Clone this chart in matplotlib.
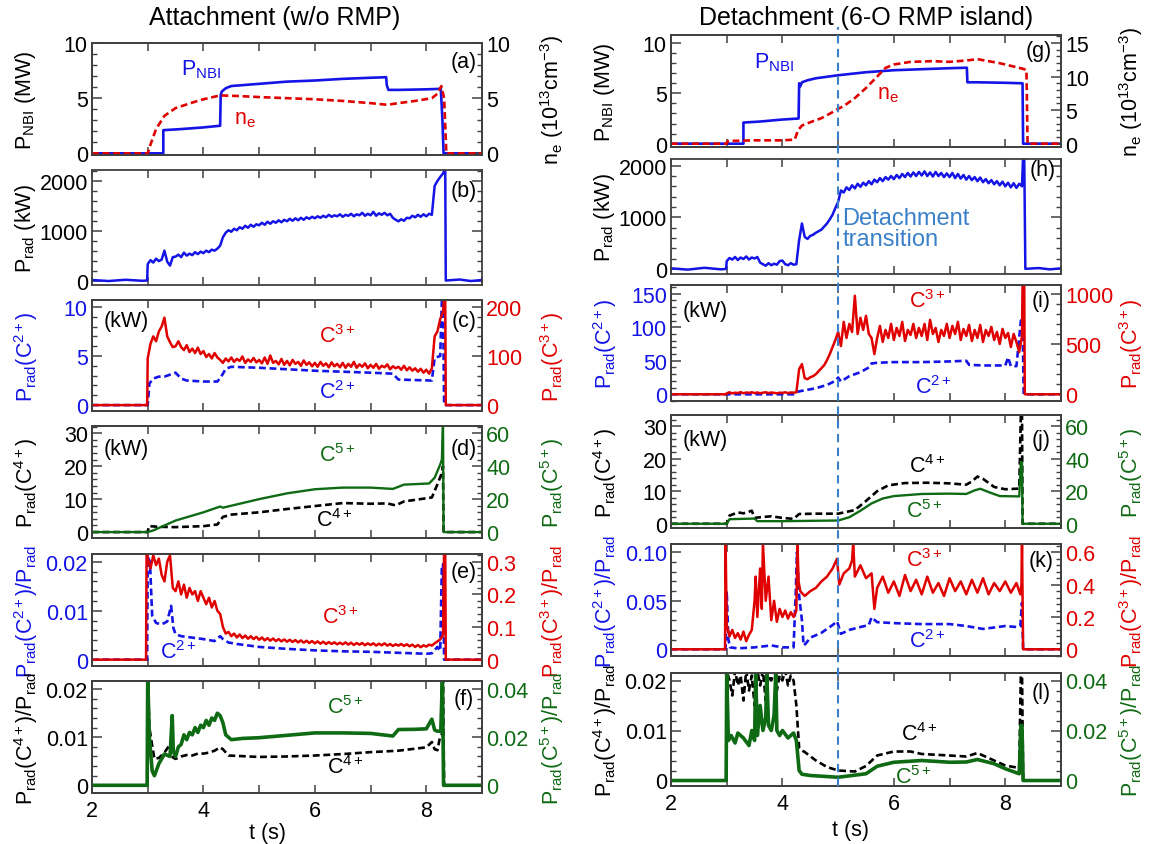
import numpy as np
import matplotlib
matplotlib.use("Agg")
import matplotlib.pyplot as plt
from matplotlib.ticker import MultipleLocator, AutoMinorLocator
from matplotlib.lines import Line2D

FAM = 'Liberation Sans'
plt.rcParams['font.family'] = [FAM, 'DejaVu Sans']
plt.rcParams['mathtext.fontset'] = 'custom'
plt.rcParams['mathtext.rm'] = FAM
plt.rcParams['mathtext.it'] = FAM + ':italic'
plt.rcParams['mathtext.sf'] = FAM
plt.rcParams['mathtext.bf'] = FAM + ':bold'
plt.rcParams['mathtext.default'] = 'regular'

BLUE = '#1414e6'
RED = '#e00000'
GREEN = '#0f6a14'
BLACK = '#000000'
VLINE = '#3b80c8'

# ---------------- data ----------------
GRID2 = list(np.round(np.arange(3.0, 8.3001, 0.05), 2))  # sample times 3.00 ... 8.30 (107)

# (a) attachment: NBI power (MW) and density (1e13 cm^-3)
T_PNBI_L = [2.0, 3.28, 3.28, 3.6, 4.0, 4.30, 4.31, 4.33, 4.40, 4.5, 5.0, 5.5, 6.0, 6.5, 7.0, 7.28, 7.29, 7.32, 7.5, 8.0, 8.26, 8.28, 8.29, 8.31, 9.0]
V_PNBI_L = [0, 0, 2.1, 2.2, 2.35, 2.5, 5.3, 5.6, 5.9, 6.1, 6.3, 6.5, 6.6, 6.75, 6.85, 6.9, 6.2, 5.75, 5.75, 5.8, 5.85, 4.0, 3.0, 0, 0]
T_NE_L = [2.0, 3.0, 3.05, 3.15, 3.3, 3.5, 3.8, 4.0, 4.3, 4.6, 5.0, 5.5, 6.0, 6.5, 7.0, 7.3, 7.5, 7.8, 8.1, 8.2, 8.27, 8.32, 8.36, 9.0]
V_NE_L = [0, 0, 0.8, 2.2, 3.4, 4.1, 4.6, 4.9, 5.25, 5.2, 5.1, 5.0, 4.9, 4.75, 4.55, 4.4, 4.55, 4.75, 5.0, 5.4, 6.1, 5.0, 0, 0]

# (b) total radiation (kW)
PRAD_L_HEAD_T = [2.0, 2.3, 2.6, 2.9, 2.99]
PRAD_L_HEAD_V = [10, -10, 15, -5, 0]
PRAD_L_GRID = [330, 410, 360, 440, 390, 420, 600, 380, 300, 470,
               480, 520, 470, 560, 500, 540, 510, 570, 530, 580,
               550, 600, 570, 620, 600, 640, 700, 870, 960, 1010,
               980, 1040, 1010, 1070, 1040, 1100, 1060, 1120, 1080, 1130,
               1110, 1160, 1120, 1180, 1140, 1190, 1160, 1210, 1170, 1220,
               1190, 1240, 1200, 1250, 1210, 1260, 1220, 1270, 1240, 1280,
               1250, 1290, 1260, 1300, 1270, 1320, 1280, 1310, 1290, 1330,
               1280, 1320, 1300, 1340, 1290, 1330, 1310, 1360, 1300, 1340,
               1310, 1380, 1300, 1350, 1320, 1360, 1310, 1340, 1260, 1220,
               1190, 1230, 1200, 1260, 1250, 1300, 1270, 1320, 1280, 1330,
               1290, 1340, 1320, 1900, 2000, 2080, 2150]
PRAD_L_TAIL_T = [8.34, 8.35, 8.6, 8.8, 9.0]
PRAD_L_TAIL_V = [2250, 0, 20, -10, 10]

# (c) C2+ (kW, left) and C3+ (kW, right)
T_C2_L = [2.0, 3.0, 3.03, 3.1, 3.2, 3.3, 3.4, 3.5, 3.6, 3.7, 4.0, 4.25, 4.32, 4.4, 4.5, 5.0, 6.0, 7.0, 7.4, 7.5, 8.1, 8.15, 8.25, 8.28, 8.3, 8.32, 9.0]
V_C2_L = [0, 0, 2.2, 2.7, 2.9, 2.9, 3.1, 3.3, 2.7, 2.5, 2.4, 2.4, 2.9, 3.7, 3.9, 3.8, 3.5, 3.3, 3.2, 2.6, 2.5, 4.8, 5.0, 10.8, 10.8, 0, 0]
C3_L_HEAD_T = [2.0, 2.99]
C3_L_HEAD_V = [0, 0]
C3_L_GRID = [95, 125, 140, 130, 150, 160, 178, 140, 128, 118,
             120, 130, 118, 112, 122, 108, 115, 106, 117, 104,
             110, 98, 104, 95, 106, 97, 92, 86, 95, 89,
             97, 88, 94, 90, 99, 86, 93, 88, 96, 87,
             92, 85, 97, 84, 101, 86, 90, 83, 94, 82,
             90, 81, 92, 84, 88, 80, 91, 82, 87, 79,
             86, 78, 88, 80, 85, 77, 87, 79, 84, 77,
             86, 76, 84, 78, 88, 76, 83, 78, 85, 75,
             82, 76, 84, 74, 80, 77, 83, 73, 79, 75,
             78, 72, 80, 71, 77, 70, 75, 68, 74, 66,
             72, 64, 75, 140, 150, 175, 190]
C3_L_TAIL_T = [8.32, 8.34, 8.35, 9.0]
C3_L_TAIL_V = [220, 220, 0, 0]

# (d) C4+ (kW, left) and C5+ (kW, right)
T_C4_L = [2.0, 3.0, 3.02, 3.2, 3.5, 4.0, 4.25, 4.35, 4.5, 5.0, 5.5, 6.0, 6.5, 7.0, 7.3, 7.45, 7.6, 8.1, 8.2, 8.28, 8.3, 8.31, 9.0]
V_C4_L = [0, 0, 1.8, 1.6, 1.5, 1.8, 2.3, 4.6, 5.3, 6.0, 7.0, 7.9, 8.8, 8.6, 8.7, 8.1, 9.3, 10.5, 14.5, 18, 20, 0, 0]
T_C5_L = [2.0, 3.0, 3.1, 3.5, 4.0, 4.3, 4.35, 4.5, 5.0, 5.5, 6.0, 6.5, 7.0, 7.4, 7.5, 7.6, 8.05, 8.15, 8.25, 8.28, 8.3, 8.31, 9.0]
V_C5_L = [0, 0, 1, 7, 12, 15.5, 14.8, 16, 20, 23.5, 26, 27, 27, 26.2, 27.5, 28.8, 29.5, 33, 41, 44, 66, 0, 0]

# (e) C2+/Prad (left) and C3+/Prad (right)
T_R2_L = [2.0, 2.99, 3.0, 3.04, 3.08, 3.15, 3.25, 3.35, 3.42, 3.46, 3.5, 3.6, 3.8, 4.0, 4.2, 4.3, 4.35, 4.45, 4.6, 5.0, 5.5, 6.0, 6.5, 7.0, 7.5, 8.0, 8.1, 8.2, 8.25, 8.28, 8.3, 8.32, 9.0]
V_R2_L = [0, 0, 0.021, 0.02, 0.009, 0.0075, 0.0072, 0.0078, 0.011, 0.0065, 0.0052, 0.0048, 0.0045, 0.0042, 0.0038, 0.0048, 0.0042, 0.0035, 0.0032, 0.0026, 0.0022, 0.0019, 0.0017, 0.0016, 0.0014, 0.0012, 0.0013, 0.0026, 0.0018, 0.0195, 0.0195, 0, 0]
R3_L_HEAD_T = [2.0, 2.97, 2.98]
R3_L_HEAD_V = [0, 0, 0.34]
R3_L_GRID = [0.31, 0.28, 0.32, 0.29, 0.31, 0.26, 0.24, 0.30, 0.32, 0.22,
             0.21, 0.24, 0.20, 0.23, 0.19, 0.22, 0.20, 0.21, 0.18, 0.21,
             0.19, 0.17, 0.19, 0.16, 0.18, 0.15, 0.14, 0.10, 0.08, 0.085,
             0.072, 0.08, 0.068, 0.077, 0.066, 0.074, 0.064, 0.072, 0.063, 0.07,
             0.061, 0.068, 0.059, 0.066, 0.058, 0.065, 0.057, 0.063, 0.056, 0.062,
             0.055, 0.061, 0.054, 0.06, 0.053, 0.059, 0.052, 0.058, 0.051, 0.057,
             0.05, 0.056, 0.049, 0.055, 0.048, 0.054, 0.048, 0.053, 0.047, 0.052,
             0.047, 0.053, 0.046, 0.052, 0.045, 0.051, 0.046, 0.051, 0.044, 0.05,
             0.045, 0.05, 0.043, 0.049, 0.044, 0.05, 0.043, 0.048, 0.042, 0.047,
             0.043, 0.048, 0.042, 0.047, 0.041, 0.046, 0.039, 0.045, 0.038, 0.044,
             0.04, 0.046, 0.043, 0.05, 0.056, 0.062, 0.075]
R3_L_TAIL_T = [8.32, 8.34, 8.35, 9.0]
R3_L_TAIL_V = [0.34, 0.34, 0, 0]

# (f) C4+/Prad (left) and C5+/Prad (right)
T_R4_L = [2.0, 2.99, 3.0, 3.03, 3.07, 3.12, 3.2, 3.3, 3.4, 3.45, 3.5, 3.6, 3.7, 3.8, 3.9, 4.0, 4.1, 4.2, 4.3, 4.35, 4.45, 5.0, 5.5, 6.0, 6.5, 7.0, 7.5, 8.0, 8.1, 8.15, 8.2, 8.25, 8.28, 8.3, 8.32, 9.0]
V_R4_L = [0, 0, 0.022, 0.012, 0.009, 0.0055, 0.0057, 0.0068, 0.0085, 0.0058, 0.0055, 0.006, 0.0063, 0.0062, 0.0066, 0.0066, 0.0068, 0.0072, 0.0079, 0.0075, 0.0062, 0.0059, 0.006, 0.0062, 0.0065, 0.0069, 0.0072, 0.0079, 0.009, 0.0075, 0.0073, 0.0103, 0.0105, 0.022, 0, 0]
T_R5_L = [2.0, 2.99, 3.0, 3.03, 3.08, 3.12, 3.2, 3.3, 3.4, 3.44, 3.46, 3.5, 3.55, 3.6, 3.65, 3.7, 3.75, 3.8, 3.85, 3.9, 3.95, 4.0, 4.05, 4.1, 4.15, 4.2, 4.25, 4.3, 4.35, 4.4, 4.5, 4.7, 5.0, 5.5, 6.0, 6.5, 7.0, 7.4, 7.5, 7.8, 8.0, 8.1, 8.15, 8.2, 8.26, 8.29, 8.31, 9.0]
V_R5_L = [0, 0, 0.045, 0.02, 0.006, 0.004, 0.009, 0.013, 0.012, 0.029, 0.014, 0.012, 0.016, 0.017, 0.021, 0.019, 0.022, 0.021, 0.024, 0.022, 0.025, 0.024, 0.027, 0.025, 0.028, 0.027, 0.030, 0.029, 0.026, 0.021, 0.019, 0.0195, 0.0198, 0.0208, 0.0218, 0.0218, 0.0216, 0.0205, 0.0232, 0.0233, 0.0235, 0.0275, 0.023, 0.0225, 0.0225, 0.045, 0, 0]

# (g) detachment: NBI power and density
T_PNBI_R = [2.0, 3.3, 3.3, 3.6, 4.0, 4.29, 4.3, 4.32, 4.35, 4.45, 4.6, 5.0, 5.5, 6.0, 6.5, 7.0, 7.31, 7.32, 7.5, 8.0, 8.31, 8.32, 9.0]
V_PNBI_R = [0, 0, 2.1, 2.2, 2.4, 2.5, 6.0, 5.7, 6.1, 6.3, 6.5, 6.8, 7.1, 7.3, 7.4, 7.5, 7.55, 6.1, 6.1, 6.05, 6.0, 0, 0]
T_NE_R = [2.0, 3.0, 3.02, 3.5, 4.0, 4.22, 4.28, 4.35, 4.5, 4.7, 4.9, 5.0, 5.1, 5.3, 5.5, 5.7, 5.85, 6.0, 6.3, 6.7, 7.0, 7.3, 7.5, 7.7, 7.9, 8.1, 8.3, 8.38, 8.4, 9.0]
V_NE_R = [0, 0, 0.4, 0.5, 0.5, 0.6, 2.0, 2.7, 3.2, 3.8, 4.7, 5.2, 5.6, 6.8, 8.3, 10.0, 11.3, 11.8, 12.2, 12.3, 12.2, 12.4, 12.6, 12.3, 12.0, 11.6, 11.2, 11.0, 0, 0]

# (h) total radiation (kW)
PRAD_R_HEAD_T = [2.0, 2.3, 2.6, 2.9, 2.99]
PRAD_R_HEAD_V = [10, -15, 20, -10, 0]
PRAD_R_GRID = [150, 210, 180, 230, 170, 220, 190, 240, 180, 220,
               200, 230, 120, 90, 60, 110, 70, 100, 80, 150,
               160, 90, 70, 110, 80, 90, 560, 880, 620, 580,
               640, 660, 700, 730, 760, 820, 880, 960, 1050, 1180,
               1300, 1520, 1480, 1580, 1530, 1620, 1560, 1650, 1590, 1670,
               1620, 1700, 1640, 1730, 1680, 1760, 1700, 1780, 1730, 1800,
               1740, 1820, 1760, 1840, 1780, 1860, 1790, 1870, 1800, 1880,
               1810, 1890, 1800, 1870, 1790, 1880, 1800, 1860, 1780, 1850,
               1780, 1860, 1760, 1840, 1750, 1820, 1730, 1800, 1720, 1780,
               1700, 1770, 1680, 1740, 1660, 1720, 1640, 1700, 1620, 1690,
               1600, 1670, 1580, 1660, 1570, 1650, 1600]
PRAD_R_TAIL_T = [8.32, 8.34, 8.36, 8.6, 8.8, 9.0]
PRAD_R_TAIL_V = [2200, 2200, 0, 15, -10, 10]

# (i) C2+ (left) and C3+ (right), kW
T_C2_R = [2.0, 4.2, 4.28, 4.4, 4.6, 4.8, 4.95, 5.0, 5.05, 5.2, 5.4, 5.55, 5.6, 5.7, 6.0, 6.5, 7.0, 7.3, 7.35, 7.6, 8.0, 8.05, 8.1, 8.2, 8.28, 8.31, 8.33, 9.0]
V_C2_R = [0, 0, 4, 6, 9, 14, 20, 25, 19, 27, 33, 40, 46, 47, 48, 48, 49, 50, 44, 43, 43, 55, 42, 42, 110, 110, 0, 0]
C3_R_HEAD_T = [2.0, 2.99]
C3_R_HEAD_V = [0, 0]
C3_R_GRID = [10, 20, 8, 16, 12, 22, 10, 18, 14, 20,
             12, 18, 10, 16, 20, 12, 18, 14, 10, 16,
             14, 20, 12, 18, 16, 20, 250, 300, 160, 150,
             170, 180, 200, 230, 260, 290, 340, 400, 470, 540,
             620, 480, 720, 560, 700, 620, 980, 600, 760, 640,
             780, 600, 560, 400, 560, 680, 520, 640, 560, 700,
             540, 660, 580, 720, 530, 640, 590, 700, 560, 660,
             580, 700, 540, 740, 600, 660, 520, 640, 580, 700,
             560, 680, 600, 720, 540, 650, 580, 690, 530, 640,
             560, 690, 520, 640, 580, 670, 540, 620, 500, 650,
             560, 610, 470, 600, 520, 420, 580]
C3_R_TAIL_T = [8.31, 8.34, 8.35, 9.0]
C3_R_TAIL_V = [1100, 1100, 0, 0]

# (j) C4+ (left) and C5+ (right), kW
T_C4_R = [2.0, 3.0, 3.05, 3.2, 3.3, 3.45, 3.5, 3.6, 3.8, 4.0, 4.2, 4.3, 4.6, 5.0, 5.3, 5.5, 5.7, 5.9, 6.2, 6.6, 7.0, 7.3, 7.4, 7.5, 7.6, 7.8, 8.0, 8.25, 8.28, 8.3, 8.31, 9.0]
V_C4_R = [0, 0, 2.5, 3.5, 3.2, 4.0, 1.8, 2.0, 2.3, 1.8, 1.5, 3.0, 3.1, 3.1, 4.2, 7.0, 10.0, 11.8, 12.5, 12.6, 12.4, 12.0, 13.0, 14.5, 13.8, 11.3, 10.6, 10.8, 34, 34, 0, 0]
T_C5_R = [2.0, 3.0, 3.05, 3.5, 3.55, 4.0, 4.5, 5.0, 5.2, 5.4, 5.6, 5.8, 6.0, 6.5, 7.0, 7.3, 7.45, 7.55, 7.7, 7.9, 8.25, 8.28, 8.3, 8.31, 9.0]
V_C5_R = [0, 0, 2.8, 3.2, 1.6, 1.6, 1.8, 2.0, 4.0, 8.0, 12.5, 15.5, 17.0, 18.3, 18.5, 18.3, 20.5, 21.5, 19.5, 17.0, 16.8, 38, 38, 0, 0]

# (k) C2+/Prad (left) and C3+/Prad (right)
T_R2_R = [2.0, 2.98, 3.0, 3.03, 3.06, 3.2, 3.5, 3.8, 4.0, 4.2, 4.24, 4.26, 4.3, 4.35, 4.38, 4.42, 4.5, 4.7, 4.9, 4.98, 5.05, 5.2, 5.4, 5.55, 5.6, 5.7, 6.0, 6.5, 7.0, 7.3, 7.6, 8.0, 8.2, 8.27, 8.3, 8.32, 9.0]
V_R2_R = [0, 0, 0.06, 0.01, 0.002, 0.001, 0.002, 0.004, 0.002, 0.002, 0.06, 0.1, 0.055, 0.03, 0.004, 0.006, 0.012, 0.017, 0.025, 0.029, 0.016, 0.02, 0.023, 0.025, 0.033, 0.028, 0.027, 0.026, 0.026, 0.024, 0.021, 0.024, 0.023, 0.024, 0.048, 0, 0]
T_R3_R = [2.0, 2.97, 2.98, 3.0, 3.05, 3.1, 3.15, 3.2, 3.25, 3.3, 3.35, 3.4, 3.45, 3.5, 3.52, 3.55, 3.6, 3.63, 3.65, 3.7,
          3.75, 3.8, 3.85, 3.9, 3.95, 4.0, 4.05, 4.1, 4.15, 4.2, 4.25, 4.27, 4.29, 4.32, 4.4, 4.5, 4.6, 4.7, 4.8, 4.9,
          4.98, 5.02, 5.1, 5.2, 5.25, 5.27, 5.3, 5.4, 5.5, 5.6, 5.65, 5.7, 5.8, 5.9, 6.0, 6.1, 6.2, 6.3, 6.4, 6.5,
          6.6, 6.7, 6.8, 6.9, 7.0, 7.1, 7.2, 7.3, 7.4, 7.5, 7.6, 7.7, 7.8, 7.9, 8.0, 8.1, 8.2, 8.27, 8.29, 8.3,
          8.32, 9.0]
V_R3_R = [0, 0, 0.66, 0.15, 0.08, 0.12, 0.07, 0.1, 0.06, 0.11, 0.05, 0.09, 0.12, 0.3, 0.45, 0.2, 0.5, 0.25, 0.66, 0.3,
          0.45, 0.18, 0.3, 0.17, 0.25, 0.2, 0.24, 0.19, 0.23, 0.2, 0.24, 0.66, 0.42, 0.36, 0.33, 0.36, 0.38, 0.42, 0.45, 0.5,
          0.56, 0.4, 0.47, 0.5, 0.55, 0.66, 0.45, 0.52, 0.44, 0.47, 0.25, 0.38, 0.45, 0.35, 0.42, 0.33, 0.46, 0.36, 0.43, 0.34,
          0.45, 0.35, 0.41, 0.33, 0.44, 0.36, 0.42, 0.34, 0.43, 0.35, 0.44, 0.34, 0.41, 0.36, 0.42, 0.35, 0.41, 0.34, 0.4, 0.66,
          0, 0]

# (l) C4+/Prad (left) and C5+/Prad (right)
T_R4_R = [2.0, 2.99, 3.0, 3.05, 3.1, 3.15, 3.2, 3.25, 3.3, 3.35, 3.4, 3.45, 3.5, 3.55, 3.6, 3.65, 3.7, 3.75, 3.8, 3.85,
          3.9, 3.95, 4.0, 4.05, 4.1, 4.15, 4.2, 4.25, 4.3, 4.35, 4.4, 4.6, 4.8, 5.0, 5.3, 5.5, 5.7, 6.0, 6.3, 6.5,
          7.0, 7.3, 7.5, 7.8, 8.0, 8.25, 8.28, 8.3, 8.32, 9.0]
V_R4_R = [0, 0, 0.022, 0.02, 0.017, 0.022, 0.019, 0.021, 0.016, 0.022, 0.018, 0.021, 0.015, 0.022, 0.019, 0.022, 0.016, 0.021, 0.02, 0.022,
          0.018, 0.021, 0.02, 0.022, 0.019, 0.021, 0.02, 0.015, 0.0065, 0.006, 0.0057, 0.004, 0.0027, 0.002, 0.0018, 0.0029, 0.005, 0.0058, 0.0058, 0.0053,
          0.005, 0.0048, 0.0055, 0.004, 0.003, 0.0025, 0.022, 0.022, 0, 0]
T_R5_R = [2.0, 2.99, 3.0, 3.03, 3.08, 3.15, 3.2, 3.3, 3.4, 3.45, 3.5, 3.52, 3.55, 3.6, 3.65, 3.7, 3.72, 3.75, 3.8, 3.85,
          3.88, 3.9, 3.95, 4.0, 4.1, 4.2, 4.25, 4.3, 4.35, 4.5, 5.0, 5.5, 5.7, 6.0, 6.5, 7.0, 7.3, 7.5, 7.8, 8.0,
          8.25, 8.28, 8.3, 8.32, 9.0]
V_R5_R = [0, 0, 0.043, 0.016, 0.018, 0.015, 0.019, 0.017, 0.014, 0.02, 0.016, 0.043, 0.018, 0.03, 0.02, 0.025, 0.043, 0.022, 0.02, 0.026,
          0.043, 0.02, 0.018, 0.02, 0.017, 0.019, 0.016, 0.004, 0.0025, 0.002, 0.0013, 0.0027, 0.0057, 0.0073, 0.008, 0.0073, 0.0074, 0.0084, 0.0067, 0.0047,
          0.0027, 0.022, 0.022, 0, 0]

X_TICKS = [2, 4, 6, 8]

# ---------------- figure ----------------
W, H = 1150, 845
fig = plt.figure(figsize=(W / 100, H / 100), dpi=100)

TICK_FS = 15.5
LAB_FS = 15.5
ANN_FS = 15.5
FRAME = '#404040'


def rect(l, t, r, b):
    return [l / W, 1 - b / H, (r - l) / W, (b - t) / H]


def series(head_t, grid_v, tail_t, head_v, tail_v):
    n = min(len(GRID2), len(grid_v))
    return head_t + GRID2[:n] + tail_t, head_v + list(grid_v[:n]) + tail_v


def fmt(v):
    if v == 0:
        return '0'
    return ('%g' % v)


def panel(r, ylim, yt, ylab, ycol, rfac=None, rt=None, rlab=None, rcol=None,
          xlab=False, yminor=5, rminor=5, ytl=None, rtl=None):
    ax = fig.add_axes(r)
    ax.set_xlim(2, 9)
    ax.set_ylim(*ylim)
    ax.set_xticks(X_TICKS)
    ax.xaxis.set_minor_locator(MultipleLocator(1))
    ax.tick_params(axis='x', which='both', direction='in', top=True, bottom=True,
                   length=6, width=1.1, color=FRAME, labelsize=TICK_FS, pad=5)
    if not xlab:
        ax.tick_params(axis='x', labelbottom=False)
    ax.set_yticks(yt)
    ax.set_yticklabels(ytl if ytl else [fmt(v) for v in yt])
    ax.yaxis.set_minor_locator(AutoMinorLocator(yminor))
    ax.tick_params(axis='y', which='major', direction='in', length=7, width=1.1,
                   color=FRAME, labelsize=TICK_FS, labelcolor=ycol, pad=3,
                   right=(rfac is None))
    ax.tick_params(axis='y', which='minor', direction='in', length=3.5, width=1.0,
                   color=FRAME, right=(rfac is None))
    for s in ax.spines.values():
        s.set_color(FRAME)
        s.set_linewidth(1.3)
    ax.set_ylabel(ylab, color=ycol, fontsize=LAB_FS, va='center')
    ax.yaxis.set_label_coords(-0.17, 0.5)
    tw = None
    if rfac is not None:
        tw = ax.twinx()
        tw.set_ylim(ylim[0] * rfac, ylim[1] * rfac)
        tw.set_yticks(rt)
        tw.set_yticklabels(rtl if rtl else [fmt(v) for v in rt])
        tw.yaxis.set_minor_locator(AutoMinorLocator(rminor))
        tw.tick_params(axis='y', which='major', direction='in', length=7, width=1.1,
                       color=FRAME, labelsize=TICK_FS, labelcolor=rcol, pad=3)
        tw.tick_params(axis='y', which='minor', direction='in', length=3.5, width=1.0,
                       color=FRAME)
        for s in tw.spines.values():
            s.set_color(FRAME)
            s.set_linewidth(1.3)
        if rlab:
            tw.set_ylabel(rlab, color=rcol, fontsize=LAB_FS, rotation=90, va='center')
            tw.yaxis.set_label_coords(1.18, 0.5)
    return ax, tw


def tag(ax, x, y, s, c=BLACK, ha='center', fs=ANN_FS):
    ax.text(x, y, s, color=c, fontsize=fs, ha=ha, va='center')


DASH = (0, (2.6, 1.4))
LW = 1.7
NLW = 1.8  # noisy signals

PR = r'P$_{rad}$'

# ---------- left column ----------
LX0, LX1 = 92, 482
# (a)
ax, tw = panel(rect(LX0, 44, LX1, 156), (-0.15, 10), [0, 5, 10], r'P$_{NBI}$ (MW)', BLACK,
               rfac=1.0, rt=[0, 5, 10], rlab=r'n$_e$ (10$^{13}$cm$^{-3}$)', rcol=BLACK)
ax.plot(T_PNBI_L, V_PNBI_L, color=BLUE, lw=LW + 0.2)
tw.plot(T_NE_L, V_NE_L, color=RED, lw=LW + 0.2, ls=DASH)
tag(ax, 3.95, 7.7, r'P$_{NBI}$', BLUE)
tag(ax, 4.75, 3.2, r'n$_e$', RED)
tag(ax, 8.68, 8.3, '(a)')

# (b)
ax, _ = panel(rect(LX0, 171, LX1, 286), (-90, 2220), [0, 1000, 2000], PR + ' (kW)', BLACK)
t, v = series(PRAD_L_HEAD_T, PRAD_L_GRID, PRAD_L_TAIL_T, PRAD_L_HEAD_V, PRAD_L_TAIL_V)
ax.plot(t, v, color=BLUE, lw=NLW)
tag(ax, 8.68, 1800, '(b)')

# (c)
ax, tw = panel(rect(LX0, 301, LX1, 412), (-0.6, 10.7), [0, 5, 10], PR + r'(C$^{2+}$)', BLUE,
               rfac=20, rt=[0, 100, 200], rlab=PR + r'(C$^{3+}$)', rcol=RED)
ax.plot(T_C2_L, V_C2_L, color=BLUE, lw=LW + 0.2, ls=DASH)
t, v = series(C3_L_HEAD_T, C3_L_GRID, C3_L_TAIL_T, C3_L_HEAD_V, C3_L_TAIL_V)
tw.plot(t, v, color=RED, lw=NLW)
tag(ax, 2.2, 8.6, '(kW)', ha='left')
tag(ax, 6.4, 7.1, r'C$^{3+}$', RED)
tag(ax, 6.4, 1.4, r'C$^{2+}$', BLUE)
tag(ax, 8.68, 8.6, '(c)')

# (d)
ax, tw = panel(rect(LX0, 427, LX1, 539), (-1.8, 32.2), [0, 10, 20, 30], PR + r'(C$^{4+}$)', BLACK,
               rfac=2, rt=[0, 20, 40, 60], rlab=PR + r'(C$^{5+}$)', rcol=GREEN)
ax.plot(T_C4_L, V_C4_L, color=BLACK, lw=LW + 0.2, ls=DASH)
tw.plot(T_C5_L, V_C5_L, color=GREEN, lw=LW)
tag(ax, 2.2, 25.5, '(kW)', ha='left')
tag(ax, 6.4, 23.5, r'C$^{5+}$', GREEN)
tag(ax, 6.35, 3.8, r'C$^{4+}$', BLACK)
tag(ax, 8.68, 25.5, '(d)')

# (e)
ax, tw = panel(rect(LX0, 555, LX1, 667), (-0.0013, 0.0216), [0, 0.01, 0.02],
               PR + r'(C$^{2+}$)/' + PR, BLUE,
               rfac=15, rt=[0, 0.1, 0.2, 0.3], rlab=PR + r'(C$^{3+}$)/' + PR, rcol=RED)
ax.plot(T_R2_L, V_R2_L, color=BLUE, lw=LW + 0.2, ls=DASH)
t, v = series(R3_L_HEAD_T, R3_L_GRID, R3_L_TAIL_T, R3_L_HEAD_V, R3_L_TAIL_V)
tw.plot(t, v, color=RED, lw=NLW)
tag(ax, 6.45, 0.0088, r'C$^{3+}$', RED)
tag(ax, 3.55, 0.0016, r'C$^{2+}$', BLUE)
tag(ax, 8.68, 0.0181, '(e)')

# (f)
ax, tw = panel(rect(LX0, 682, LX1, 794), (-0.0016, 0.0217), [0, 0.01, 0.02],
               PR + r'(C$^{4+}$)/' + PR, BLACK,
               rfac=2, rt=[0, 0.02, 0.04], rlab=PR + r'(C$^{5+}$)/' + PR, rcol=GREEN, xlab=True)
ax.plot(T_R4_L, V_R4_L, color=BLACK, lw=LW + 0.2, ls=DASH)
tw.plot(T_R5_L, V_R5_L, color=GREEN, lw=NLW + 0.8)
tag(ax, 6.55, 0.0163, r'C$^{5+}$', GREEN)
tag(ax, 6.55, 0.0038, r'C$^{4+}$', BLACK)
tag(ax, 8.68, 0.0181, '(f)')
ax.set_xlabel('t (s)', fontsize=LAB_FS)
ax.xaxis.set_label_coords(0.45, -0.255)

# ---------- right column ----------
RX0, RX1 = 671, 1061
# (g)
ax, tw = panel(rect(RX0, 36, RX1, 148), (-0.33, 10.8), [0, 5, 10], r'P$_{NBI}$ (MW)', BLACK,
               rfac=1.5, rt=[0, 5, 10, 15], rlab=r'n$_e$ (10$^{13}$cm$^{-3}$)', rcol=BLACK)
ax_g = ax
ax.plot(T_PNBI_R, V_PNBI_R, color=BLUE, lw=LW + 0.2)
tw.plot(T_NE_R, V_NE_R, color=RED, lw=LW + 0.2, ls=DASH)
tag(ax, 3.85, 8.1, r'P$_{NBI}$', BLUE)
tag(ax, 5.9, 5.0, r'n$_e$', RED)
tag(ax, 8.6, 9.3, '(g)')

# (h)
ax, _ = panel(rect(RX0, 160, RX1, 275), (-100, 2130), [0, 1000, 2000], PR + ' (kW)', BLACK)
t, v = series(PRAD_R_HEAD_T, PRAD_R_GRID, PRAD_R_TAIL_T, PRAD_R_HEAD_V, PRAD_R_TAIL_V)
ax.plot(t, v, color=BLUE, lw=NLW)
ax.text(5.08, 790, 'Detachment\ntransition', color=VLINE, fontsize=ANN_FS + 1.5, ha='left',
        va='center', linespacing=0.95)
tag(ax, 8.68, 1930, '(h)')

# (i)
ax, tw = panel(rect(RX0, 286, RX1, 402), (-10, 163), [0, 50, 100, 150], PR + r'(C$^{2+}$)', BLUE,
               rfac=1000 / 150, rt=[0, 500, 1000], rlab=PR + r'(C$^{3+}$)', rcol=RED)
ax.plot(T_C2_R, V_C2_R, color=BLUE, lw=LW + 0.2, ls=DASH)
t, v = series(C3_R_HEAD_T, C3_R_GRID, C3_R_TAIL_T, C3_R_HEAD_V, C3_R_TAIL_V)
tw.plot(t, v, color=RED, lw=NLW)
tag(ax, 2.2, 125, '(kW)', ha='left')
tag(ax, 6.6, 140, r'C$^{3+}$', RED)
tag(ax, 6.7, 12, r'C$^{2+}$', BLUE)
tag(ax, 8.65, 140, '(i)')

# (j)
ax, tw = panel(rect(RX0, 416, RX1, 529), (-1.3, 33.4), [0, 10, 20, 30], PR + r'(C$^{4+}$)', BLACK,
               rfac=2, rt=[0, 20, 40, 60], rlab=PR + r'(C$^{5+}$)', rcol=GREEN)
ax.plot(T_C4_R, V_C4_R, color=BLACK, lw=LW + 0.2, ls=DASH)
tw.plot(T_C5_R, V_C5_R, color=GREEN, lw=LW)
tag(ax, 2.2, 26, '(kW)', ha='left')
tag(ax, 6.6, 17.8, r'C$^{4+}$', BLACK)
tag(ax, 6.55, 4.0, r'C$^{5+}$', GREEN)
tag(ax, 8.65, 26, '(j)')

# (k)
ax, tw = panel(rect(RX0, 545, RX1, 657), (-0.0069, 0.1086), [0, 0.05, 0.10],
               PR + r'(C$^{2+}$)/' + PR, BLUE,
               rfac=6, rt=[0, 0.2, 0.4, 0.6], rlab=PR + r'(C$^{3+}$)/' + PR, rcol=RED,
               ytl=['0', '0.05', '0.10'])
ax.plot(T_R2_R, V_R2_R, color=BLUE, lw=LW + 0.2, ls=DASH)
tw.plot(T_R3_R, V_R3_R, color=RED, lw=NLW)
tag(ax, 6.55, 0.093, r'C$^{3+}$', RED)
tag(ax, 6.6, 0.0086, r'C$^{2+}$', BLUE)
tag(ax, 8.65, 0.092, '(k)')

# (l)
ax, tw = panel(rect(RX0, 674, RX1, 787), (-0.0011, 0.0215), [0, 0.01, 0.02],
               PR + r'(C$^{4+}$)/' + PR, BLACK,
               rfac=2, rt=[0, 0.02, 0.04], rlab=PR + r'(C$^{5+}$)/' + PR, rcol=GREEN, xlab=True)
ax_l = ax
ax.plot(T_R4_R, V_R4_R, color=BLACK, lw=LW + 0.2, ls=DASH)
tw.plot(T_R5_R, V_R5_R, color=GREEN, lw=NLW + 0.8)
tag(ax, 6.45, 0.0093, r'C$^{4+}$', BLACK)
tag(ax, 6.35, 0.0008, r'C$^{5+}$', GREEN)
tag(ax, 8.65, 0.0175, '(l)')
ax.set_xlabel('t (s)', fontsize=LAB_FS)
ax.xaxis.set_label_coords(0.46, -0.29)

# detachment transition marker across right column (t = 5 s)
pos_g = ax_g.get_position()
pos_l = ax_l.get_position()
xf = pos_g.x0 + (5 - 2) / 7 * pos_g.width
fig.add_artist(Line2D([xf, xf], [pos_l.y0, 1 - 28 / H], transform=fig.transFigure,
                      color=VLINE, lw=1.5, ls=(0, (4, 2.6)), zorder=10))

# titles
fig.text(275 / W, 1 - 18 / H, 'Attachment (w/o RMP)', ha='center', va='center', fontsize=18)
fig.text(866 / W, 1 - 18 / H, 'Detachment (6-O RMP island)', ha='center', va='center', fontsize=18)

fig.savefig('out.png', dpi=100)
